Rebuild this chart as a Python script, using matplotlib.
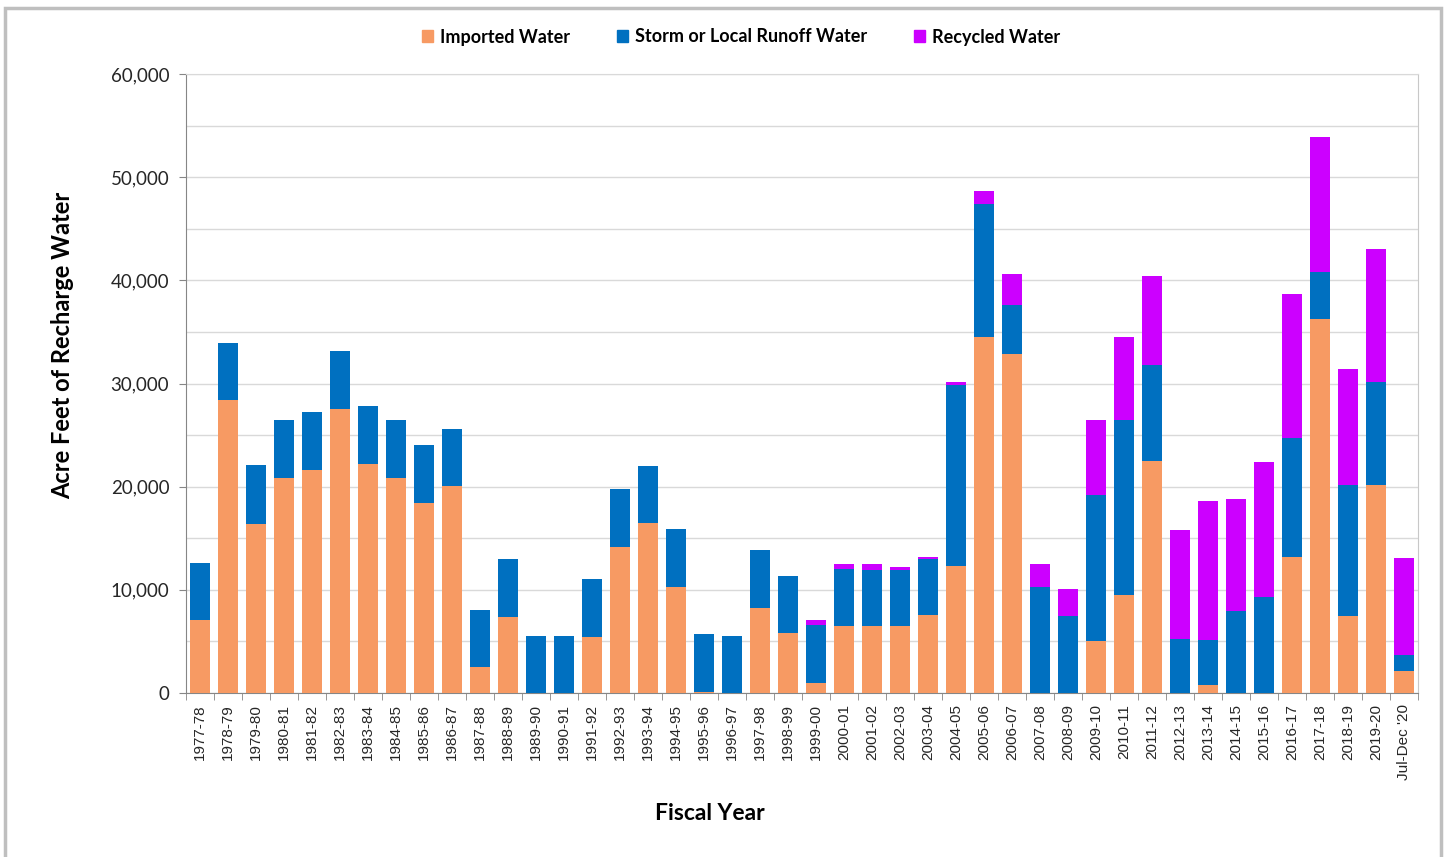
import numpy as np
import matplotlib.pyplot as plt
from matplotlib.patches import Patch, Rectangle
from matplotlib.ticker import MultipleLocator, FuncFormatter

years = ['1977-78', '1978-79', '1979-80', '1980-81', '1981-82', '1982-83', '1983-84',
         '1984-85', '1985-86', '1986-87', '1987-88', '1988-89', '1989-90', '1990-91',
         '1991-92', '1992-93', '1993-94', '1994-95', '1995-96', '1996-97', '1997-98',
         '1998-99', '1999-00', '2000-01', '2001-02', '2002-03', '2003-04', '2004-05',
         '2005-06', '2006-07', '2007-08', '2008-09', '2009-10', '2010-11', '2011-12',
         '2012-13', '2013-14', '2014-15', '2015-16', '2016-17', '2017-18', '2018-19',
         '2019-20', "Jul-Dec '20"]

# acre feet (cumulative heights)
imported = [7030, 28390, 16350, 20870, 21610, 27520, 22160, 20870, 18420, 20030,
            2500, 7400, 0, 0, 5460, 14180, 16440, 10300, 100, 0, 8270,
            5800, 950, 6470, 6470, 6470, 7570, 12270, 34500, 32900, 0, 0,
            5000, 9490, 22490, 0, 820, 0, 0, 13140, 36250, 7450, 20130, 2150]
storm_top = [12610, 33970, 22060, 26450, 27190, 33130, 27840, 26450, 24000, 25610,
             8070, 12980, 5560, 5560, 11050, 19770, 22030, 15890, 5680, 5560, 13860,
             11380, 6600, 12000, 11950, 11950, 13000, 29850, 47370, 37600, 10230, 7430,
             19230, 26500, 31840, 5270, 5090, 7990, 9280, 24750, 40760, 20200, 30120, 3720]
total = [12610, 33970, 22060, 26450, 27190, 33130, 27840, 26450, 24000, 25610,
         8070, 12980, 5560, 5560, 11050, 19770, 22030, 15890, 5680, 5560, 13860,
         11380, 7100, 12500, 12500, 12170, 13150, 30100, 48670, 40630, 12500, 10100,
         26450, 34530, 40440, 15760, 18620, 18840, 22390, 38650, 53870, 31410, 43020, 13040]

imported = np.array(imported)
storm = np.array(storm_top) - imported
recycled = np.array(total) - np.array(storm_top)

c_imp = '#F79A63'
c_storm = '#0070C0'
c_rec = '#CC00FF'

fig = plt.figure(figsize=(14.47, 8.57), dpi=100)
ax = fig.add_axes([186/1447, 1 - 693/857, 1232/1447, 619/857])

x = np.arange(len(years))
w = 0.68
ax.bar(x, imported, w, color=c_imp, zorder=3)
ax.bar(x, storm, w, bottom=imported, color=c_storm, zorder=3)
ax.bar(x, recycled, w, bottom=imported + storm, color=c_rec, zorder=3)

ax.set_xlim(-0.5, len(years) - 0.5)
ax.set_ylim(0, 60000)

ax.yaxis.set_major_locator(MultipleLocator(10000))
ax.yaxis.set_minor_locator(MultipleLocator(5000))
ax.yaxis.set_major_formatter(FuncFormatter(lambda v, p: f'{int(v):,}'))
ax.grid(axis='y', which='both', color='#D9D9D9', lw=1, zorder=0)
ax.tick_params(axis='y', which='major', length=5, color='#868686', pad=7,
               labelsize=13.5, labelcolor='#262626')
ax.tick_params(axis='y', which='minor', length=0)
for t in ax.get_yticklabels():
    t.set_family('Lato')

ax.set_xticks(x)
ax.set_xticklabels(years, rotation=90, fontsize=11, family='Liberation Sans',
                   color='#262626')
ax.set_xticks(np.arange(-0.5, len(years), 1), minor=True)
ax.tick_params(axis='x', which='major', length=0, pad=8)
ax.tick_params(axis='x', which='minor', length=5, color='#868686')

ax.spines['left'].set_color('#868686')
ax.spines['bottom'].set_color('#868686')
ax.spines['right'].set_color('#C8C8C8')
ax.spines['top'].set_color('#D9D9D9')

handles = [Patch(color=c_imp, label='Imported Water'),
           Patch(color=c_storm, label='Storm or Local Runoff Water'),
           Patch(color=c_rec, label='Recycled Water')]
fig.legend(handles=handles, loc='center', bbox_to_anchor=(741/1447, 1 - 37/857),
           ncol=3, frameon=False, handlelength=0.6, handleheight=0.6,
           handletextpad=0.4, columnspacing=2.6,
           prop={'family': 'Lato', 'weight': 'bold', 'size': 13})

fig.text(63/1447, 1 - 345/857, 'Acre Feet of Recharge Water', rotation=90,
         ha='center', va='center', family='Lato', weight='bold', fontsize=17)
fig.text(710/1447, 1 - 813/857, 'Fiscal Year', ha='center', va='center',
         family='Lato', weight='bold', fontsize=16.5)

fig.patches.append(Rectangle((5/1447, -0.05), 1436/1447, 1.05 - 8/857,
                             transform=fig.transFigure, fill=False,
                             edgecolor='#BFBFBF', lw=2.5))

fig.savefig('out.png', dpi=100)
